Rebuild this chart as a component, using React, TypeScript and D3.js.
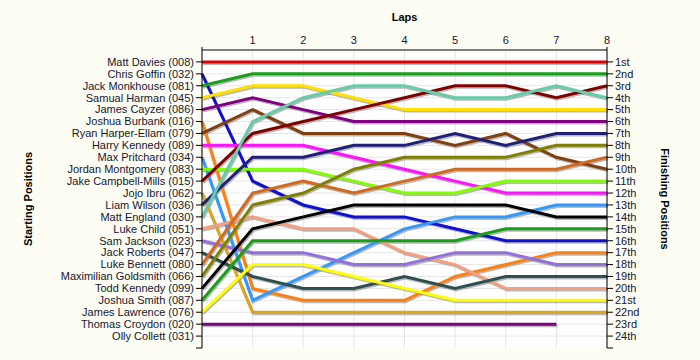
import * as d3 from "d3"
import React from "react"

const drivers = [
  "Matt Davies (008)", "Chris Goffin (032)", "Jack Monkhouse (081)", "Samual Harman (045)",
  "James Cayzer (086)", "Joshua Burbank (016)", "Ryan Harper-Ellam (079)", "Harry Kennedy (089)",
  "Max Pritchard (034)", "Jordan Montgomery (083)", "Jake Campbell-Mills (015)", "Jojo Ibru (062)",
  "Liam Wilson (036)", "Matt England (030)", "Luke Child (051)", "Sam Jackson (023)",
  "Jack Roberts (047)", "Luke Bennett (080)", "Maximilian Goldsmith (066)", "Todd Kennedy (099)",
  "Joshua Smith (087)", "James Lawrence (076)", "Thomas Croydon (020)", "Olly Collett (031)",
]

const colors = [
  "#e00000", "#1010d0", "#18a018", "#ffe000",
  "#800080", "#ff8010", "#804010", "#ff10ff",
  "#3399ff", "#80ff00", "#800000", "#daa520",
  "#202078", "#66ccaa", "#f4a080", "#9370db",
  "#2f4f4f", "#d2691e", "#808000", "#000000",
  "#18a018", "#ffff00", "#800080", "#888888",
]

// position after each lap (lap 0 = grid), one array per driver
const lapPositions = [
  [1, 1, 1, 1, 1, 1, 1, 1, 1],
  [2, 11, 13, 14, 14, 15, 16, 16, 16],
  [3, 2, 2, 2, 2, 2, 2, 2, 2],
  [4, 3, 3, 4, 5, 5, 5, 5, 5],
  [5, 4, 5, 6, 6, 6, 6, 6, 6],
  [6, 20, 21, 21, 21, 19, 18, 17, 17],
  [7, 5, 7, 7, 7, 8, 7, 9, 10],
  [8, 8, 8, 9, 10, 11, 12, 12, 12],
  [9, 21, 19, 17, 15, 14, 14, 13, 13],
  [10, 10, 10, 11, 12, 12, 11, 11, 11],
  [11, 7, 6, 5, 4, 3, 3, 4, 3],
  [12, 22, 22, 22, 22, 22, 22, 22, 22],
  [13, 9, 9, 8, 8, 7, 8, 7, 7],
  [14, 6, 4, 3, 3, 4, 4, 3, 4],
  [15, 14, 15, 15, 17, 18, 20, 20, 20],
  [16, 17, 17, 18, 18, 17, 17, 18, 18],
  [17, 19, 20, 20, 19, 20, 19, 19, 19],
  [18, 12, 11, 12, 11, 10, 10, 10, 9],
  [19, 13, 12, 10, 9, 9, 9, 8, 8],
  [20, 15, 14, 13, 13, 13, 13, 14, 14],
  [21, 16, 16, 16, 16, 16, 15, 15, 15],
  [22, 18, 18, 19, 20, 21, 21, 21, 21],
  [23, 23, 23, 23, 23, 23, 23, 23],
  [],
]

const lapLabels = ["1", "2", "3", "4", "5", "6", "7", "8"]
const finishLabels = [
  "1st", "2nd", "3rd", "4th", "5th", "6th", "7th", "8th", "9th", "10th", "11th", "12th",
  "13th", "14th", "15th", "16th", "17th", "18th", "19th", "20th", "21st", "22nd", "23rd", "24th",
]

const W = 700
const H = 360
const font = "'Liberation Sans', Arial, sans-serif"
const textColor = "#161630"

export default function App() {
  const x = d3.scaleLinear().domain([0, 8]).range([202, 607])
  const y = d3.scaleLinear().domain([0, 25]).range([50, 348])
  const line = d3.line<number>().x((d, i) => x(i)).y(d => y(d))
  const rows = d3.range(1, 25)
  const laps = d3.range(0, 9)

  return (
    <svg width={W} height={H} style={{ position: "absolute", left: 0, top: 0 }} fontFamily={font}>
      <rect width={W} height={H} fill="#fdfdf3" />
      <rect x={x(0)} y={y(0)} width={x(8) - x(0)} height={y(25) - y(0)} fill="#ffffff" />
      {rows.map(r => (
        <line key={"h" + r} x1={x(0)} x2={x(8)} y1={y(r)} y2={y(r)} stroke="#e6e6e6" />
      ))}
      {laps.map(l => (
        <line key={"v" + l} x1={x(l)} x2={x(l)} y1={y(0)} y2={y(25)} stroke="#e6e6e6" />
      ))}

      {lapPositions.map((p, i) => p.length > 1 ? (
        <path key={"s" + i} d={line(p) || ""} fill="none" stroke="#808080" strokeOpacity={0.55}
          strokeWidth={3} transform="translate(1,1.5)" />
      ) : null)}
      {lapPositions.map((p, i) => p.length > 1 ? (
        <path key={"l" + i} d={line(p) || ""} fill="none" stroke={colors[i]} strokeWidth={3} />
      ) : null)}

      {/* top axis */}
      <line x1={x(0)} x2={x(8)} y1={y(0)} y2={y(0)} stroke="#000" />
      {lapLabels.map((t, i) => (
        <text key={t} x={x(i + 1)} y={y(0) - 6} textAnchor="middle" fontSize={11} fill={textColor}>{t}</text>
      ))}
      <text x={x(4)} y={21} textAnchor="middle" fontSize={11} fontWeight="bold" fill="#000">Laps</text>

      {/* left axis */}
      <line x1={x(0)} x2={x(0)} y1={y(0) - 3} y2={y(25)} stroke="#000" />
      <line x1={x(0) - 6} x2={x(0)} y1={y(25)} y2={y(25)} stroke="#000" />
      {drivers.map((d, i) => (
        <g key={d} transform={`translate(${x(0)},${y(i + 1)})`}>
          <line x1={-6} x2={0} stroke="#000" />
          <text x={-8} dy="0.35em" textAnchor="end" fontSize={11} fill={textColor}>{d}</text>
        </g>
      ))}
      <text transform={`translate(32,${y(12.5)}) rotate(-90)`} textAnchor="middle" fontSize={11}
        fontWeight="bold" fill="#000">Starting Positions</text>

      {/* right axis */}
      <line x1={x(8)} x2={x(8)} y1={y(0) - 3} y2={y(25)} stroke="#000" />
      <line x1={x(8)} x2={x(8) + 6} y1={y(25)} y2={y(25)} stroke="#000" />
      {finishLabels.map((f, i) => (
        <g key={f} transform={`translate(${x(8)},${y(i + 1)})`}>
          <line x1={0} x2={6} stroke="#000" />
          <text x={8} dy="0.35em" fontSize={11} fill={textColor}>{f}</text>
        </g>
      ))}
      <text transform={`translate(661,${y(12.5)}) rotate(90)`} textAnchor="middle" fontSize={11}
        fontWeight="bold" fill="#000">Finishing Positions</text>
    </svg>
  )
}
